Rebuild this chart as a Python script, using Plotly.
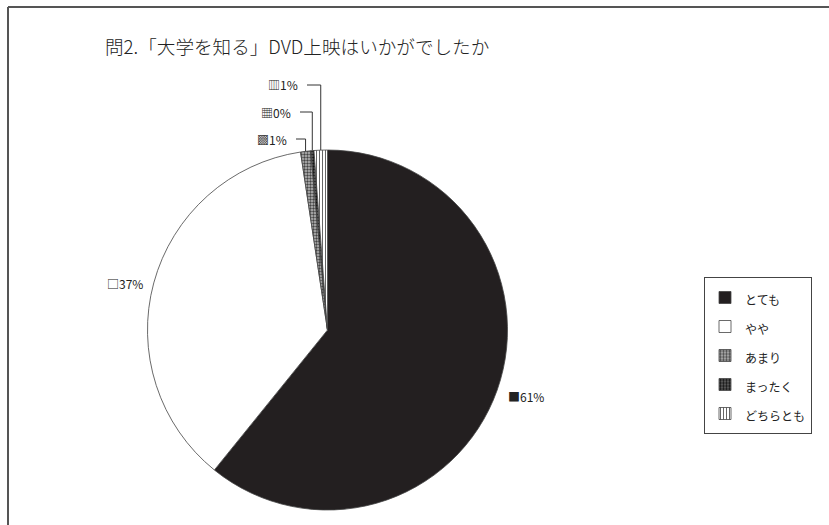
import math
import plotly.graph_objects as go

# Survey answers (percent of respondents)
categories = ["とても", "やや", "あまり", "まったく", "どちらとも"]
shares = [61.0, 36.9, 0.9, 0.3, 1.2]
key_glyphs = ["■", "□", "▩", "▦", "▥"]

title_text = "問2.「大学を知る」DVD上映はいかがでしたか"

W, H = 829, 525
FONT = "Noto Sans CJK JP, DejaVu Sans, sans-serif"

# pie placement in pixels (centre and radius)
cx, cy, R = 327.5, 330.0, 180.0


def px(x):
    return x / W


def py(y):
    return 1 - y / H


fills = ["#231f20", "#ffffff", "#9a9a9a", "#3a3a3a", "#ffffff"]
pat_shapes = ["", "", ".", ".", "|"]
pat_fg = ["#231f20", "#ffffff", "#444444", "#111111", "#666666"]
pat_bg = ["#231f20", "#ffffff", "#bdbdbd", "#6a6a6a", "#ffffff"]
pat_size = [6, 6, 3, 3, 3]
pat_sol = [0.3, 0.3, 0.5, 0.5, 0.35]

fig = go.Figure()
fig.add_trace(go.Pie(
    labels=[f'<span style="font-size:12px">{c}</span>' for c in categories],
    values=shares,
    sort=False,
    direction="clockwise",
    rotation=0,
    textinfo="none",
    hoverinfo="label+percent",
    domain=dict(x=[px(cx - R), px(cx + R)], y=[py(cy + R), py(cy - R)]),
    marker=dict(
        colors=fills,
        line=dict(color="#444444", width=0.8),
        pattern=dict(shape=pat_shapes, fgcolor=pat_fg, bgcolor=pat_bg,
                     size=pat_size, solidity=pat_sol, fillmode="replace"),
    ),
))

total = sum(shares)
pct = [round(v / total * 100) for v in shares]

# mid angle of each slice, clockwise from 12 o'clock
mids = []
acc = 0.0
for v in shares:
    mids.append((acc + v / 2) / total * 2 * math.pi)
    acc += v


def edge(a, k=1.0):
    return cx + k * R * math.sin(a), cy - k * R * math.cos(a)


annotations = [dict(
    text=title_text, x=px(103), y=py(45), xref="paper", yref="paper",
    xanchor="left", yanchor="middle", showarrow=False,
    font=dict(family=FONT, size=18.6, color="#222222", weight=300),
)]
shapes = [
    dict(type="line", xref="paper", yref="paper", x0=px(8), y0=py(7), x1=1.0, y1=py(7),
         line=dict(color="#555555", width=2)),
    dict(type="line", xref="paper", yref="paper", x0=px(8), y0=py(7), x1=px(8), y1=0.0,
         line=dict(color="#555555", width=2)),
]

lab_font = dict(family=FONT, size=12, color="#222222")

# large slices: label just outside the rim
for i, anchor in [(0, "left"), (1, "right")]:
    lx, ly = edge(mids[i], 1.05)
    annotations.append(dict(
        text=f"{key_glyphs[i]}{pct[i]}%", x=px(lx), y=py(ly + 3), xref="paper", yref="paper",
        xanchor=anchor, yanchor="middle", showarrow=False, font=lab_font,
    ))

# small slices: stacked labels above the pie with elbow leader lines
label_rows = {2: (289, 139), 3: (293, 112), 4: (300, 85)}
for i, (rx, ry) in label_rows.items():
    annotations.append(dict(
        text=f"{key_glyphs[i]}{pct[i]}%", x=px(rx), y=py(ry), xref="paper", yref="paper",
        xanchor="right", yanchor="middle", showarrow=False, font=lab_font,
    ))
    ex, ey = edge(mids[i])
    path = (f"M{px(rx + 7)},{py(ry)} L{px(ex)},{py(ry)} L{px(ex)},{py(ey)}")
    shapes.append(dict(type="path", xref="paper", yref="paper", path=path,
                       line=dict(color="#333333", width=1)))

fig.update_layout(
    width=W, height=H,
    margin=dict(l=0, r=0, t=0, b=0),
    paper_bgcolor="white",
    plot_bgcolor="white",
    annotations=annotations,
    shapes=shapes,
    showlegend=True,
    legend=dict(
        x=px(704), y=py(277), xanchor="left", yanchor="top",
        bgcolor="white", bordercolor="#444444", borderwidth=1,
        font=dict(family=FONT, size=20, color="#222222"),
        itemwidth=30,
    ),
)

fig.write_html("out.html")
